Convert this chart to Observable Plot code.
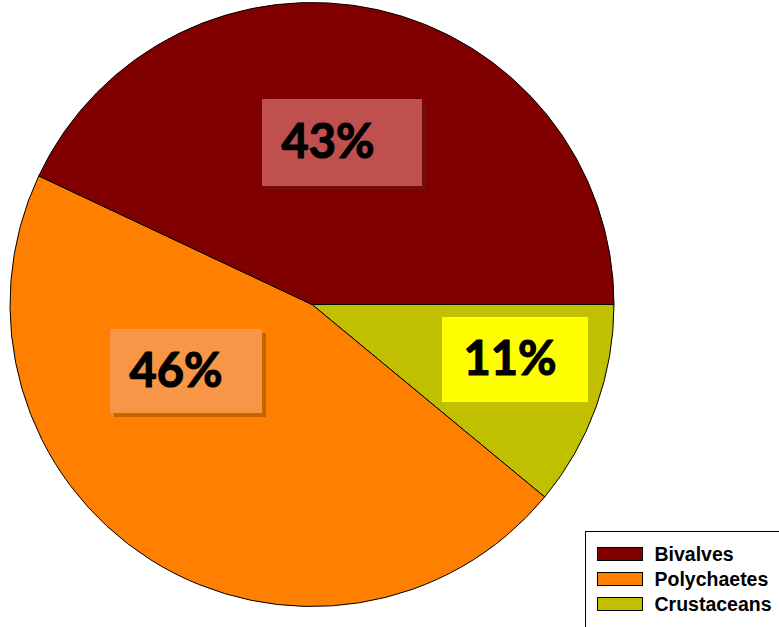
<!DOCTYPE html>
<html>
<head>
<meta charset="utf-8">
<script src="https://cdn.jsdelivr.net/npm/d3@7"></script>
<script src="https://cdn.jsdelivr.net/npm/@observablehq/plot@0.6"></script>
<style>
  html, body { margin: 0; padding: 0; background: #ffffff; }
  #chart { width: 779px; height: 627px; overflow: hidden; }
</style>
</head>
<body>
<div id="chart"></div>
<script>
// ---- data ----
const categories = ["Bivalves", "Polychaetes", "Crustaceans"];
const shares = [43, 46, 11];
const percentLabels = ["43%", "46%", "11%"];

// ---- styles / layout ----
const sliceColors = ["#800000", "#ff8000", "#c0bf00"];
const labelFills = ["#c0504d", "#f79646", "#ffff00"];
const labelShadows = ["#6e0f0f", "#c86400", "#c0bf00"];
const pieLayout = {cx: 312, cy: 304.5, r: 302, start: Math.PI / 2};
const labelBoxes = [
  {x1: 262, x2: 422, y1: 99, y2: 186, tx: 281},
  {x1: 110, x2: 262, y1: 329, y2: 413, tx: 129},
  {x1: 442, x2: 588, y1: 317, y2: 402, tx: 463}
];
const legendBox = {x1: 585.5, x2: 800, y1: 531.5, y2: 640};
const legendRows = [554, 579, 604];

const slices = categories.map((name, i) => ({name, value: shares[i], label: percentLabels[i]}));
// pie runs clockwise from 3 o'clock: Crustaceans, Polychaetes, Bivalves
const pieData = slices.slice().reverse();

const boxes = slices.map((d, i) => ({...d, ...labelBoxes[i], fill: labelFills[i], shadow: labelShadows[i]}));
const legendItems = slices.map((d, i) => ({...d, y: legendRows[i]}));

function pieMark(index, scales) {
  const x = scales.x, y = scales.y, color = scales.color;
  const cx = x(pieLayout.cx), cy = y(pieLayout.cy);
  const r = x(pieLayout.cx + pieLayout.r) - cx;
  const arcs = d3.pie().sort(null).value(d => d.value)
    .startAngle(pieLayout.start).endAngle(pieLayout.start + 2 * Math.PI)(pieData);
  const arc = d3.arc().innerRadius(0).outerRadius(r);
  const g = d3.create("svg:g").attr("transform", `translate(${cx},${cy})`);
  g.selectAll("path").data(arcs).join("path")
    .attr("d", arc)
    .attr("fill", d => color(d.data.name))
    .attr("stroke", "#000")
    .attr("stroke-width", 1)
    .attr("stroke-linejoin", "round");
  return g.node();
}

const labelFont = "Lato, 'Open Sans', sans-serif";
const legendFont = "'Liberation Sans', Arial, sans-serif";

const chart = Plot.plot({
  width: 779,
  height: 627,
  margin: 0,
  style: {background: "#ffffff", overflow: "hidden"},
  x: {domain: [0, 779], range: [0, 779], axis: null},
  y: {domain: [0, 627], range: [0, 627], axis: null},
  color: {domain: categories, range: sliceColors},
  marks: [
    pieMark,
    // label shadows
    Plot.rect(boxes, {x1: d => d.x1 + 4, x2: d => d.x2 + 4, y1: d => d.y1 + 4, y2: d => d.y2 + 4, fill: d => d.shadow}),
    // label boxes
    Plot.rect(boxes, {x1: "x1", x2: "x2", y1: "y1", y2: "y2", fill: d => d.fill}),
    Plot.text(boxes, {
      x: "tx", y: d => (d.y1 + d.y2) / 2,
      text: "label", fontSize: 47, fontWeight: "bold", fontFamily: labelFont,
      fill: "#000", stroke: "#000", strokeWidth: 1.2,
      textAnchor: "start", lineAnchor: "middle"
    }),
    // legend frame
    Plot.rect([legendBox], {x1: "x1", x2: "x2", y1: "y1", y2: "y2", fill: "#ffffff", stroke: "#000", strokeWidth: 1}),
    // legend swatches
    Plot.rect(legendItems, {x1: 597.5, x2: 642.5, y1: d => d.y - 6.5, y2: d => d.y + 6.5, fill: "name", stroke: "#000", strokeWidth: 1}),
    Plot.text(legendItems, {
      x: 654, y: "y", text: "name", textAnchor: "start", lineAnchor: "middle",
      fontSize: 19.5, fontWeight: "bold", fontFamily: legendFont, fill: "#000"
    })
  ]
});
document.getElementById("chart").appendChild(chart);
</script>
</body>
</html>
